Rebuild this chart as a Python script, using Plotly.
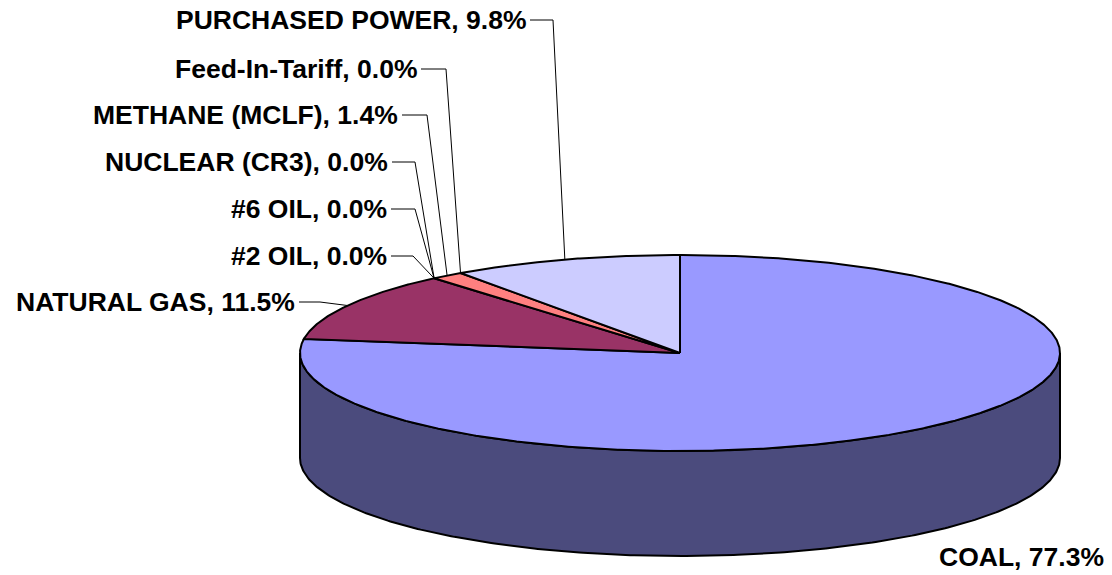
import numpy as np
import plotly.graph_objects as go

# ---------------- data ----------------
categories = ["COAL", "NATURAL GAS", "#2 OIL", "#6 OIL", "NUCLEAR (CR3)",
              "METHANE (MCLF)", "Feed-In-Tariff", "PURCHASED POWER"]
shares = [77.3, 11.5, 0.0, 0.0, 0.0, 1.4, 0.0, 9.8]

# ---------------- styles / layout ----------------
top_colors = ["#9999FF", "#993366", "#FFFFCC", "#CCFFFF", "#660066",
              "#FF8080", "#0066CC", "#CCCCFF"]
side_colors = ["#4B4B7D", "#4C1933", "#80805F", "#668080", "#330033",
               "#804040", "#003366", "#66667F"]

W, H = 1112, 575
CX, CY = 680.0, 353.0      # centre of the top face
RX, RY = 380.0, 98.0       # radii of the top ellipse
DEPTH = 105.0              # thickness of the pie
START = 90.0               # first slice starts at 12 o'clock, clockwise

FONT = dict(family="Liberation Sans, Arial, sans-serif", size=26.5, color="#000000", weight="bold")

# label placement: (right end x, centre y, elbow x) or None when label sits free
label_pos = {
    "COAL": (1106, 557, None),
    "NATURAL GAS": (297, 302, 320),
    "#2 OIL": (389, 256, 413),
    "#6 OIL": (389, 209, 415),
    "NUCLEAR (CR3)": (390, 162, 415),
    "METHANE (MCLF)": (400, 115, 427),
    "Feed-In-Tariff": (419, 69, 446),
    "PURCHASED POWER": (528, 20, 553),
}


def pt(theta_deg, dy=0.0):
    t = np.radians(theta_deg)
    return CX + RX * np.cos(t), CY - RY * np.sin(t) + dy


fig = go.Figure()

total = float(sum(shares))
bounds = []
a = START
for v in shares:
    b = a - 360.0 * v / total
    bounds.append((a, b))
    a = b

# ---- sides (front half only) ----
for i, (a0, a1) in enumerate(bounds):
    lo, hi = min(a0, a1), max(a0, a1)
    if hi - lo <= 0:
        continue
    for k in range(-2, 3):
        flo, fhi = -180.0 + 360.0 * k, 0.0 + 360.0 * k
        s, e = max(lo, flo), min(hi, fhi)
        if e - s <= 1e-9:
            continue
        th = np.linspace(s, e, 300)
        xt, yt = pt(th)
        xb, yb = pt(th[::-1], DEPTH)
        xs = np.concatenate([xt, xb, xt[:1]])
        ys = np.concatenate([yt, yb, yt[:1]])
        fig.add_trace(go.Scatter(x=xs, y=ys, mode="lines", fill="toself",
                                 fillcolor=side_colors[i],
                                 line=dict(color="#000000", width=2),
                                 hoverinfo="skip", showlegend=False))

# ---- top faces ----
for i, (a0, a1) in enumerate(bounds):
    if abs(a0 - a1) <= 1e-9:
        continue
    n = max(int(abs(a0 - a1) * 3), 4)
    th = np.linspace(a0, a1, n)
    xa, ya = pt(th)
    xs = np.concatenate([[CX], xa, [CX]])
    ys = np.concatenate([[CY], ya, [CY]])
    fig.add_trace(go.Scatter(x=xs, y=ys, mode="lines", fill="toself",
                             fillcolor=top_colors[i],
                             line=dict(color="#000000", width=2),
                             hoverinfo="skip", showlegend=False))

# ---- labels and leader lines ----
for i, name in enumerate(categories):
    xr, yc, elbow = label_pos[name]
    text = f"{name}, {shares[i]:.1f}%"
    fig.add_annotation(x=xr, y=yc, text=text, showarrow=False,
                       xanchor="right", yanchor="middle", font=FONT,
                       xref="x", yref="y")
    if elbow is not None:
        a0, a1 = bounds[i]
        mx, my = pt((a0 + a1) / 2.0)
        fig.add_trace(go.Scatter(x=[xr + 2, elbow, mx], y=[yc, yc, my],
                                 mode="lines",
                                 line=dict(color="#000000", width=1),
                                 hoverinfo="skip", showlegend=False))

fig.update_layout(
    width=W, height=H,
    margin=dict(l=0, r=0, t=0, b=0),
    paper_bgcolor="#FFFFFF", plot_bgcolor="#FFFFFF",
    xaxis=dict(range=[0, W], visible=False, fixedrange=True),
    yaxis=dict(range=[H, 0], visible=False, fixedrange=True),
    showlegend=False,
)

fig.write_html("out.html", config={"displayModeBar": False})
